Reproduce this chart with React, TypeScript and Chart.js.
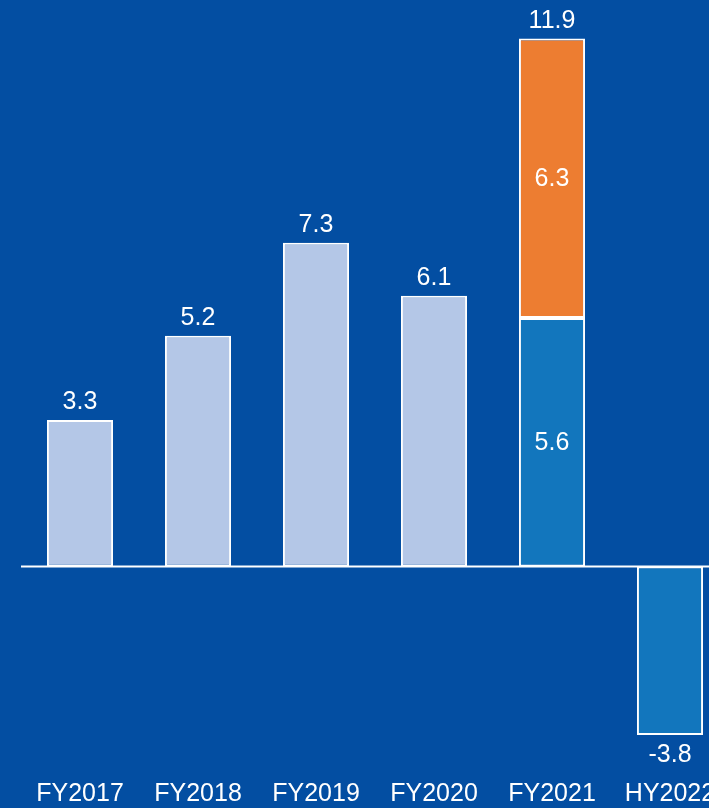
import React, { useEffect, useRef } from "react";
import { Chart, registerables } from "chart.js";

Chart.register(...registerables);

const categories = ["FY2017", "FY2018", "FY2019", "FY2020", "FY2021", "HY2022"];
const historicValues = [3.3, 5.2, 7.3, 6.1, null, null];
const coreValues = [null, null, null, null, 5.6, -3.8];
const extraValues = [null, null, null, null, 6.3, null];

const BG = "#034EA2";
const FONT = "'Liberation Sans', Arial, sans-serif";

const labelPlugin = {
  id: "valueLabels",
  afterDatasetsDraw(chart: any) {
    const { ctx, chartArea, scales } = chart;
    const y0 = scales.y.getPixelForValue(0);
    ctx.save();
    // zero line
    ctx.strokeStyle = "#FFFFFF";
    ctx.lineWidth = 2;
    ctx.beginPath();
    ctx.moveTo(chartArea.left, y0);
    ctx.lineTo(chart.width, y0);
    ctx.stroke();

    ctx.fillStyle = "#FFFFFF";
    ctx.font = `25px ${FONT}`;
    ctx.textAlign = "center";
    ctx.textBaseline = "middle";
    const fmt = (v: number) => v.toFixed(1);

    chart.getDatasetMeta(0).data.forEach((el: any, i: number) => {
      const v = historicValues[i];
      if (v == null) return;
      ctx.fillText(fmt(v), el.x, el.y - 18);
    });
    chart.getDatasetMeta(1).data.forEach((el: any, i: number) => {
      const v = coreValues[i];
      if (v == null) return;
      if (extraValues[i] != null) {
        ctx.fillText(fmt(v), el.x, (el.y + el.base) / 2 + 1);
      } else if (v < 0) {
        ctx.fillText(fmt(v), el.x, el.y + 20);
      } else {
        ctx.fillText(fmt(v), el.x, el.y - 18);
      }
    });
    chart.getDatasetMeta(2).data.forEach((el: any, i: number) => {
      const v = extraValues[i];
      if (v == null) return;
      ctx.fillText(fmt(v), el.x, (el.y + el.base) / 2 + 1);
      const total = v + (coreValues[i] ?? 0);
      ctx.fillText(fmt(total), el.x, el.y - 18);
    });
    ctx.restore();
  },
};

export default function App() {
  const ref = useRef<HTMLCanvasElement | null>(null);
  useEffect(() => {
    if (!ref.current) return;
    const common = {
      borderColor: "#FFFFFF",
      borderWidth: 2,
      borderSkipped: false as const,
      barPercentage: 0.56,
      categoryPercentage: 1.0,
    };
    const chart = new Chart(ref.current, {
      type: "bar",
      data: {
        labels: categories,
        datasets: [
          { label: "historic", data: historicValues, backgroundColor: "#B4C7E7", ...common },
          { label: "core", data: coreValues, backgroundColor: "#1276BD", ...common },
          { label: "extra", data: extraValues, backgroundColor: "#ED7D31", ...common },
        ],
      },
      options: {
        animation: false,
        responsive: false,
        devicePixelRatio: 1,
        layout: { padding: { left: 21, right: 11, top: 12, bottom: 1 } },
        plugins: { legend: { display: false }, tooltip: { enabled: false } },
        scales: {
          x: {
            stacked: true,
            grid: { display: false, drawTicks: false },
            border: { display: false },
            ticks: {
              color: "#FFFFFF",
              padding: 13,
              font: { size: 25, family: FONT },
              maxRotation: 0,
              autoSkip: false,
            },
          },
          y: {
            stacked: true,
            display: false,
            min: -4.5,
            max: 12.5,
          },
        },
      },
      plugins: [labelPlugin],
    });
    return () => chart.destroy();
  }, []);
  return (
    <div
      style={{
        position: "fixed",
        left: 0,
        top: 0,
        width: 709,
        height: 808,
        overflow: "hidden",
        background: BG,
      }}
    >
      <canvas ref={ref} width={740} height={823} style={{ display: "block" }} />
    </div>
  );
}
